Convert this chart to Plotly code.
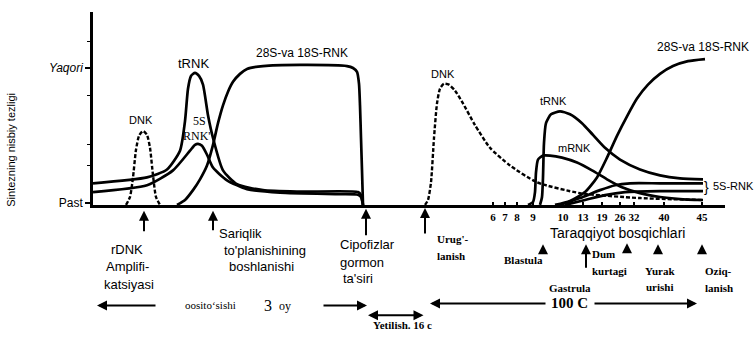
import plotly.graph_objects as go

# --- Synthesis-rate curves (x: position along the timeline, y: relative rate, 0 = "Past", 1 = "Yaqori") ---

# Oocyte growth phase
dnk_oocyte_x = [126, 130, 133, 136, 139, 143, 147, 150, 153, 156, 160]
dnk_oocyte_y = [0.0, 0.058, 0.201, 0.403, 0.504, 0.540, 0.511, 0.417, 0.216, 0.058, 0.0]

trnk_oocyte_x = [93, 147, 167, 180, 185, 188, 191, 195, 199, 203, 208, 213, 223, 237, 263, 300, 358, 361, 363]
trnk_oocyte_y = [0.158, 0.201, 0.259, 0.396, 0.612, 0.849, 0.942, 0.964, 0.942, 0.878, 0.655, 0.489,
                 0.252, 0.151, 0.108, 0.097, 0.094, 0.072, 0.0]

rnk5s_oocyte_x = [93, 147, 173, 190, 195, 198, 202, 207, 213, 227, 247, 280, 340, 358, 361, 363]
rnk5s_oocyte_y = [0.094, 0.144, 0.252, 0.396, 0.439, 0.446, 0.432, 0.367, 0.273, 0.180, 0.115,
                  0.090, 0.079, 0.075, 0.058, 0.0]

rnk28s_oocyte_x = [177, 185, 193, 200, 207, 213, 218, 223, 228, 233, 240, 247, 263, 300, 347, 353, 357,
                   359, 360, 361, 362, 363]
rnk28s_oocyte_y = [0.0, 0.036, 0.108, 0.187, 0.288, 0.439, 0.597, 0.727, 0.827, 0.899, 0.957, 0.993,
                   1.014, 1.022, 1.014, 1.0, 0.971, 0.885, 0.727, 0.489, 0.252, 0.0]

# Embryonic development
dnk_embryo_x = [425, 428, 431, 434, 437, 440, 444, 449, 455, 463, 475, 490, 510, 537, 580, 640, 703]
dnk_embryo_y = [0.0, 0.036, 0.165, 0.489, 0.741, 0.849, 0.885, 0.878, 0.835, 0.741, 0.583, 0.417,
                0.288, 0.165, 0.086, 0.050, 0.036]

trnk_embryo_x = [540, 542, 543, 544, 546, 551, 560, 570, 582, 593, 605, 620, 640, 660, 680, 703]
trnk_embryo_y = [0.0, 0.058, 0.201, 0.453, 0.597, 0.662, 0.683, 0.662, 0.597, 0.511, 0.417, 0.331,
                 0.259, 0.216, 0.194, 0.187]

mrnk_embryo_x = [528, 533, 535, 536, 538, 543, 550, 562, 577, 592, 607, 622, 640, 660, 680, 703]
mrnk_embryo_y = [0.0, 0.022, 0.094, 0.237, 0.331, 0.360, 0.360, 0.345, 0.309, 0.252, 0.187, 0.129,
                 0.086, 0.058, 0.043, 0.036]

rnk28s_embryo_x = [555, 570, 585, 597, 607, 617, 627, 637, 648, 660, 673, 688, 705]
rnk28s_embryo_y = [0.0, 0.029, 0.094, 0.201, 0.345, 0.504, 0.647, 0.777, 0.878, 0.957, 1.014, 1.050, 1.065]

rnk5s_embryo_a_x = [560, 580, 600, 615, 630, 660, 703]
rnk5s_embryo_a_y = [0.0, 0.050, 0.108, 0.144, 0.158, 0.158, 0.158]
rnk5s_embryo_b_x = [565, 585, 605, 625, 660, 703]
rnk5s_embryo_b_y = [0.0, 0.036, 0.072, 0.094, 0.101, 0.101]

# Developmental stages marked on the time axis
stage_pos = [493, 505, 517, 533, 563, 583, 602, 620, 634, 664, 702]
stage_labels = ["6", "7", "8", "9", "10", "13", "19", "26", "32", "40", "45"]

# Rate-axis labels
rate_levels = [0.015, 1.0]
rate_labels = ["Past", "<i>Yaqori</i>"]

W, H = 756, 338
SANS = "Liberation Sans"
SERIF = "Liberation Serif"

fig = go.Figure()

solid = dict(color="black", width=2.7, shape="spline", smoothing=0.6)
dashed = dict(color="black", width=2.4, shape="spline", smoothing=0.6, dash="4px,2px")

series = [
    (dnk_oocyte_x, dnk_oocyte_y, dashed),
    (trnk_oocyte_x, trnk_oocyte_y, solid),
    (rnk5s_oocyte_x, rnk5s_oocyte_y, solid),
    (rnk28s_oocyte_x, rnk28s_oocyte_y, solid),
    (dnk_embryo_x, dnk_embryo_y, dashed),
    (trnk_embryo_x, trnk_embryo_y, solid),
    (mrnk_embryo_x, mrnk_embryo_y, solid),
    (rnk28s_embryo_x, rnk28s_embryo_y, solid),
    (rnk5s_embryo_a_x, rnk5s_embryo_a_y, solid),
    (rnk5s_embryo_b_x, rnk5s_embryo_b_y, solid),
]
for xs, ys, ln in series:
    fig.add_trace(go.Scatter(x=xs, y=ys, mode="lines", line=ln, hoverinfo="skip",
                             showlegend=False, cliponaxis=False))


def px(x):
    return x / W


def py(y):
    return 1 - y / H


def text(x, y, s, size=12, family=SANS, anchor="center", angle=0):
    fig.add_annotation(x=px(x), y=py(y), xref="paper", yref="paper", text=s, showarrow=False,
                       xanchor=anchor, yanchor="middle", textangle=angle,
                       font=dict(family=family, size=size, color="black"))


def arrow(x, y, dx, dy, width=2, head=2, side="end"):
    fig.add_annotation(x=px(x), y=py(y), xref="paper", yref="paper", ax=dx, ay=dy,
                       axref="pixel", ayref="pixel", text="", showarrow=True,
                       arrowhead=head, arrowsize=1, arrowwidth=width, arrowcolor="black",
                       arrowside=side, startarrowhead=head, startarrowsize=1)


# Curve labels
text(141, 122, "DNK", 11)
text(193, 64, "tRNK", 13)
text(199, 123, "5S", 12, SERIF)
text(197, 138, "RNK'", 12, SERIF)
text(302, 54, "28S-va 18S-RNK", 12)
text(443, 75, "DNK", 11)
text(553, 103, "tRNK", 11)
text(574, 150, "mRNK", 11)
text(703, 48, "28S-va 18S-RNK", 12)
text(706, 190, "}", 14, anchor="center")
text(711, 189, "5S-RNK", 11, anchor="left")

# Axis title
text(11, 152, "Sintezning nisbiy tezligi", 11, angle=-90)

# Events below the time axis
arrow(144, 214, 0, 22)
text(127, 253, "rDNK", 13)
text(127, 271, "Amplifi-", 13)
text(129, 289, "katsiyasi", 13)

arrow(213, 214, 0, 21)
text(217, 237, "Sariqlik", 13, anchor="left")
text(265, 254, "to'planishining", 13)
text(261, 270, "boshlanishi", 13)

arrow(366, 212, 0, 28)
text(367, 248, "Cipofizlar", 13)
text(362, 266, "gormon", 13, family=SANS)
text(358, 283, "ta'siri", 13)

arrow(425, 211, 0, 27)
text(435, 243, "<b>Urug'-</b>", 11, SERIF, anchor="left")
text(435, 260, "<b>lanish</b>", 11, SERIF, anchor="left")

text(617, 236, "Taraqqiyot bosqichlari", 14)

arrow(543, 248, 0, 10, width=2)
text(523, 264, "<b>Blastula</b>", 11, SERIF)
arrow(586, 248, 0, 25, width=2)
text(590, 258, "<b>Dum</b>", 11, SERIF, anchor="left")
text(590, 275, "<b>kurtagi</b>", 11, SERIF, anchor="left")
arrow(627, 247, 0, 10, width=2)
arrow(658, 248, 0, 10, width=2)
text(660, 275, "<b>Yurak</b>", 11, SERIF)
text(660, 291, "<b>urishi</b>", 11, SERIF)
arrow(702, 248, 0, 10, width=2)
text(718, 275, "<b>Oziq-</b>", 11, SERIF)
text(719, 292, "<b>lanish</b>", 11, SERIF)
text(570, 292, "<b>Gastrula</b>", 11, SERIF)

# Period spans
arrow(97, 310, 60, 0)
text(210, 310, "oositoʻsishi", 11, SERIF)
text(268, 310, "3", 16, SERIF)
text(285, 311, "oy", 12, SERIF)
arrow(367, 310, -45, 0)
arrow(368, 320, 57, 0, side="start+end")
text(403, 330, "<b>Yetilish. 16 c</b>", 11, SERIF)
arrow(430, 308, 117, 0)
text(569, 308, "<b>100 C</b>", 15, SERIF)
arrow(697, 308, -104, 0)

x0, x1, y_top, y_base = 93, 725, 12, 208
y_max = (y_base - y_top) / 139  # 139 px per unit of rate

fig.update_layout(
    width=W, height=H, margin=dict(l=0, r=0, t=0, b=0),
    paper_bgcolor="white", plot_bgcolor="white",
    xaxis=dict(domain=[x0 / W, x1 / W], range=[x0, x1], showgrid=False, zeroline=False,
               showline=True, linecolor="black", linewidth=2.5,
               tickmode="array", tickvals=stage_pos,
               ticktext=[f"<b>{s}</b>" for s in stage_labels], tickangle=0,
               ticks="inside", ticklen=3, tickwidth=1.5, tickcolor="black",
               tickfont=dict(family=SERIF, size=11, color="black")),
    yaxis=dict(domain=[1 - y_base / H, 1 - y_top / H], range=[0, y_max], showgrid=False,
               zeroline=False, showline=True, linecolor="black", linewidth=2.5,
               tickmode="array", tickvals=rate_levels, ticktext=rate_labels,
               ticks="outside", ticklen=5, tickwidth=1.5, tickcolor="black",
               tickfont=dict(family=SANS, size=12, color="black"),
               minor=dict(tickvals=[0.29, 0.44, 0.8, 1.19], ticks="outside", ticklen=3,
                          tickwidth=1.2, tickcolor="black")),
)

fig.write_html("out.html")
